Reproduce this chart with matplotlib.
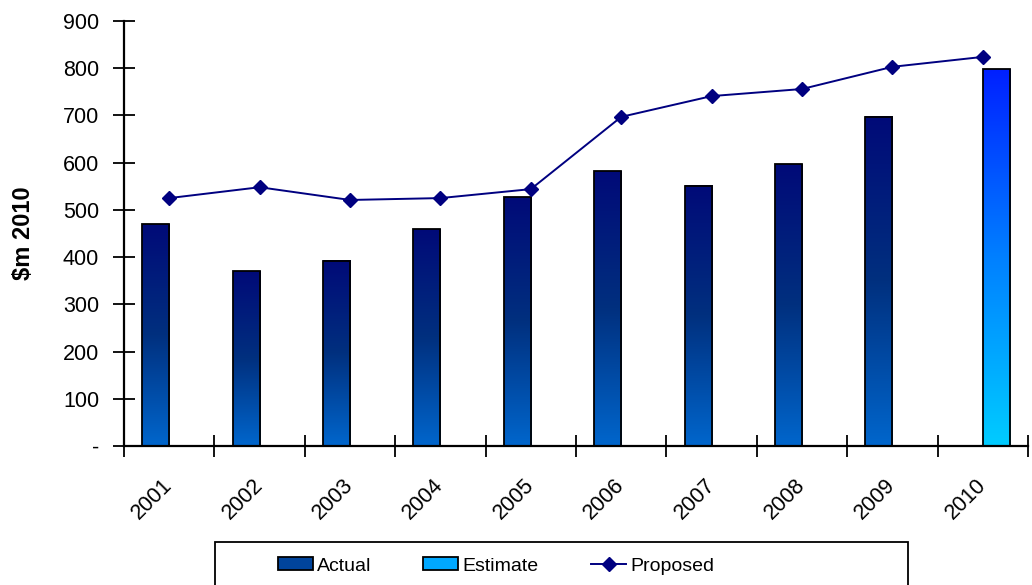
import numpy as np
import matplotlib
matplotlib.use("Agg")
import matplotlib.pyplot as plt
from matplotlib.colors import LinearSegmentedColormap
from matplotlib.patches import Rectangle
from matplotlib.lines import Line2D

plt.rcParams['font.family'] = ['Liberation Sans', 'DejaVu Sans']

years = ['2001', '2002', '2003', '2004', '2005', '2006', '2007', '2008', '2009', '2010']
actual = [470, 370, 392, 459, 527, 582, 551, 597, 697, None]
estimate = [None, None, None, None, None, None, None, None, None, 798]
proposed = [525, 548, 521, 525, 544, 697, 741, 756, 803, 824]
yticks = [0, 100, 200, 300, 400, 500, 600, 700, 800, 900]
ytick_labels = ['-', '100', '200', '300', '400', '500', '600', '700', '800', '900']

# bottom colour -> top colour for each bar series
actual_cmap = LinearSegmentedColormap.from_list('act', ['#0066cc', '#00307f', '#000a78'])
estimate_cmap = LinearSegmentedColormap.from_list('est', ['#00ccff', '#0080ff', '#0020ff'])

fig = plt.figure(figsize=(10.32, 5.85), dpi=100)
ax = fig.add_axes([0.1202, 0.2376, 0.876, 0.7265])

x = np.arange(len(years))
bw = 0.3
grad = np.linspace(0, 1, 256).reshape(-1, 1)


def gradient_bars(xs, vals, cmap):
    for xi, v in zip(xs, vals):
        if v is None:
            continue
        ax.imshow(grad, extent=[xi - bw / 2, xi + bw / 2, 0, v], origin='lower',
                  aspect='auto', cmap=cmap, zorder=2)
        ax.add_patch(Rectangle((xi - bw / 2, 0), bw, v, facecolor='none',
                               edgecolor='black', linewidth=1.3, zorder=3))


gradient_bars(x - bw / 2, actual, actual_cmap)
gradient_bars(x + bw / 2, estimate, estimate_cmap)

ax.plot(x, proposed, color='#000080', linewidth=1.4, marker='D', markersize=7,
        markerfacecolor='#000080', markeredgecolor='#000080', zorder=4)

ax.set_xlim(-0.5, 9.5)
ax.set_ylim(0, 900)
ax.set_yticks(yticks)
ax.set_yticklabels(ytick_labels, fontsize=15.5)
ax.tick_params(axis='y', direction='inout', length=16, width=1.3, pad=10)

ax.set_xticks(x)
ax.set_xticklabels(years, fontsize=15.5, rotation=45, ha='right', va='center',
                   rotation_mode='anchor')
ax.tick_params(axis='x', which='major', length=0, pad=26)
ax.set_xticks(np.arange(-0.5, 10, 1), minor=True)
ax.tick_params(axis='x', which='minor', direction='inout', length=16, width=1.3)

for side in ['top', 'right']:
    ax.spines[side].set_visible(False)
for side in ['left', 'bottom']:
    ax.spines[side].set_linewidth(1.6)

ax.set_ylabel('\\$m 2010', fontsize=17, fontweight='bold', labelpad=20)

# legend frame and entries
fig.patches.append(Rectangle((215 / 1032, -0.02), 693 / 1032, 0.0935,
                             transform=fig.transFigure, facecolor='white',
                             edgecolor='black', linewidth=1.3))
handles = [
    Rectangle((0, 0), 1, 1, facecolor='#00449c', edgecolor='black', linewidth=1.3),
    Rectangle((0, 0), 1, 1, facecolor='#00a8ff', edgecolor='black', linewidth=1.3),
    Line2D([], [], color='#000080', linewidth=1.4, marker='D', markersize=7),
]
fig.legend(handles, ['Actual', 'Estimate', 'Proposed'], loc='center left',
           bbox_to_anchor=(268 / 1032, 1 - 566 / 585), ncol=3, frameon=False,
           fontsize=14, handlelength=1.8, handleheight=0.6, handletextpad=0.2,
           columnspacing=2.7, borderpad=0)

fig.savefig('out.png', dpi=100)
